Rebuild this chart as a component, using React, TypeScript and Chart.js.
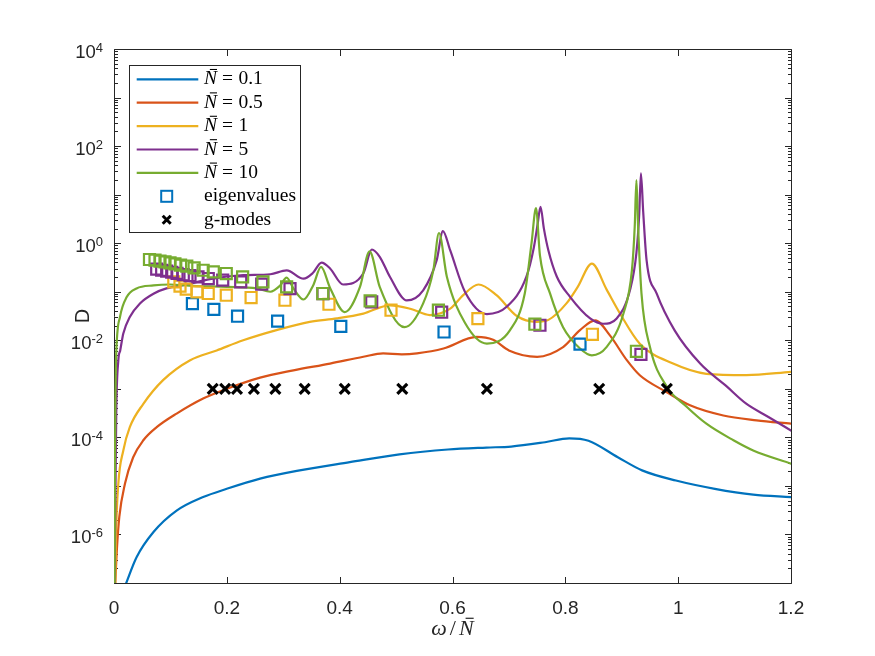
import React, { useEffect, useRef } from "react";
import { Chart, registerables } from "chart.js";

Chart.register(...registerables);

// ---------------- data ----------------
const seriesLabels = ["0.1", "0.5", "1", "5", "10"];
const seriesColors = ["#0072BD", "#D95319", "#EDB120", "#7E2F8E", "#77AC30"];

// N = 0.1
const n01X = [0.020, 0.040, 0.070, 0.111, 0.158, 0.200, 0.259, 0.324, 0.418, 0.506, 0.592, 0.660, 0.704, 0.764, 0.807, 0.841, 0.893, 0.936, 0.996, 1.065, 1.133, 1.200];
const n01D = [8.9e-8, 3.39e-7, 1.12e-6, 3.09e-6, 5.89e-6, 8.71e-6, 1.41e-5, 2.04e-5, 3.09e-5, 4.47e-5, 5.62e-5, 6.17e-5, 6.46e-5, 7.94e-5, 9.55e-5, 8.51e-5, 3.89e-5, 2.09e-5, 1.29e-5, 8.71e-6, 6.61e-6, 5.89e-6];

// N = 0.5
const n05X = [0.002, 0.005, 0.0094, 0.0195, 0.034, 0.052, 0.0757, 0.111, 0.158, 0.200, 0.259, 0.318, 0.383, 0.442, 0.477, 0.510, 0.537, 0.584, 0.643, 0.672, 0.700, 0.750, 0.796, 0.826, 0.853, 0.879, 0.909, 0.932, 0.980, 1.021, 1.080, 1.139, 1.200];
const n05D = [8.9e-8, 4.68e-7, 2.29e-6, 1.12e-5, 3.89e-5, 8.71e-5, 1.62e-4, 3.09e-4, 6.31e-4, 1.0e-3, 1.70e-3, 2.40e-3, 3.31e-3, 4.57e-3, 5.37e-3, 5.13e-3, 5.37e-3, 6.76e-3, 1.17e-2, 1.02e-2, 6.17e-3, 4.57e-3, 7.24e-3, 1.62e-2, 2.57e-2, 1.26e-2, 3.89e-3, 1.9e-3, 8.5e-4, 4.57e-4, 2.82e-4, 2.24e-4, 1.91e-4];

// N = 1
const n1X = [0.0022, 0.0035, 0.0077, 0.0165, 0.028, 0.052, 0.087, 0.135, 0.182, 0.229, 0.288, 0.347, 0.395, 0.442, 0.489, 0.525, 0.560, 0.596, 0.619, 0.646, 0.678, 0.714, 0.749, 0.770, 0.802, 0.822, 0.847, 0.873, 0.897, 0.932, 0.991, 1.050, 1.121, 1.200];
const n1D = [8.9e-8, 8.9e-7, 1.12e-5, 5.37e-5, 1.62e-4, 4.90e-4, 1.51e-3, 3.89e-3, 6.17e-3, 1.0e-2, 1.62e-2, 2.40e-2, 2.82e-2, 3.55e-2, 5.25e-2, 4.47e-2, 3.31e-2, 4.47e-2, 8.51e-2, 1.41e-1, 8.51e-2, 3.16e-2, 2.40e-2, 2.63e-2, 5.75e-2, 1.26e-1, 3.80e-1, 1.12e-1, 3.55e-2, 8.51e-3, 3.31e-3, 2.04e-3, 1.91e-3, 2.24e-3];

// N = 5
const n5X = [0.001, 0.0015, 0.004, 0.0077, 0.011, 0.0165, 0.028, 0.046, 0.070, 0.093, 0.129, 0.170, 0.229, 0.277, 0.306, 0.336, 0.352, 0.368, 0.383, 0.406, 0.442, 0.457, 0.471, 0.489, 0.519, 0.548, 0.572, 0.583, 0.596, 0.622, 0.661, 0.696, 0.731, 0.744, 0.751, 0.756, 0.762, 0.770, 0.785, 0.808, 0.844, 0.867, 0.891, 0.915, 0.926, 0.931, 0.934, 0.938, 0.944, 0.962, 0.994, 1.039, 1.086, 1.120, 1.160, 1.200];
const n5D = [8.9e-8, 3.16e-7, 3.16e-4, 3.89e-3, 6.17e-3, 1.38e-2, 3.02e-2, 5.75e-2, 9.12e-2, 1.17e-1, 1.41e-1, 1.82e-1, 2.19e-1, 2.29e-1, 2.75e-1, 1.86e-1, 2.40e-1, 3.98e-1, 3.02e-1, 1.41e-1, 2.40e-1, 7.41e-1, 5.25e-1, 2.04e-1, 6.61e-2, 1.07e-1, 4.47e-1, 1.78, 7.08e-1, 1.0e-1, 3.47e-2, 4.90e-2, 2.04e-1, 7.94e-1, 2.51, 5.62, 2.0, 7.08e-1, 2.04e-1, 7.94e-2, 2.82e-2, 2.19e-2, 2.82e-2, 1.12e-1, 6.31e-1, 3.98, 27.5, 4.47, 4.47e-1, 9.12e-2, 1.58e-2, 3.31e-3, 1.12e-3, 5.01e-4, 2.63e-4, 1.38e-4];

// N = 10
const n10X = [0.001, 0.0015, 0.0025, 0.0035, 0.0106, 0.0225, 0.040, 0.070, 0.099, 0.140, 0.200, 0.253, 0.277, 0.294, 0.306, 0.318, 0.336, 0.353, 0.367, 0.383, 0.409, 0.436, 0.453, 0.471, 0.515, 0.548, 0.566, 0.576, 0.590, 0.622, 0.661, 0.702, 0.728, 0.740, 0.748, 0.755, 0.773, 0.796, 0.826, 0.847, 0.873, 0.903, 0.918, 0.923, 0.926, 0.929, 0.935, 0.950, 0.980, 1.015, 1.050, 1.098, 1.133, 1.200];
const n10D = [8.9e-8, 1.0e-5, 6.31e-4, 3.89e-3, 3.02e-2, 7.76e-2, 1.17e-1, 1.35e-1, 1.41e-1, 1.32e-1, 1.26e-1, 1.17e-1, 1.0e-1, 1.32e-1, 1.95e-1, 1.17e-1, 6.92e-2, 1.35e-1, 3.24e-1, 1.20e-1, 3.80e-2, 1.26e-1, 6.76e-1, 1.26e-1, 1.86e-2, 5.75e-2, 2.75e-1, 1.62, 2.04e-1, 2.29e-2, 8.51e-3, 1.62e-2, 9.12e-2, 9.77e-1, 5.25, 5.62e-1, 9.12e-2, 1.86e-2, 6.76e-3, 4.90e-3, 7.24e-3, 3.55e-2, 2.75e-1, 2.19, 20.0, 2.19, 9.12e-2, 7.24e-3, 1.10e-3, 4.27e-4, 1.91e-4, 8.71e-5, 5.37e-5, 2.88e-5];

// eigenvalues (squares)
const eigBlueX = [0.139, 0.177, 0.219, 0.290, 0.402, 0.585, 0.826];
const eigBlueD = [5.71e-2, 4.32e-2, 3.13e-2, 2.47e-2, 1.93e-2, 1.48e-2, 8.32e-3];
const eigYellowX = [0.106, 0.117, 0.128, 0.147, 0.167, 0.199, 0.243, 0.303, 0.381, 0.491, 0.645, 0.848];
const eigYellowD = [0.159, 0.130, 0.113, 9.93e-2, 9.20e-2, 8.47e-2, 7.60e-2, 6.68e-2, 5.52e-2, 4.16e-2, 2.80e-2, 1.33e-2];
const eigPurpleX = [0.0757, 0.0845, 0.0934, 0.1023, 0.1117, 0.1228, 0.1347, 0.1489, 0.1671, 0.1927, 0.2246, 0.2618, 0.312, 0.3704, 0.4568, 0.5808, 0.755, 0.934];
const eigPurpleD = [0.291, 0.277, 0.265, 0.252, 0.240, 0.224, 0.214, 0.202, 0.187, 0.173, 0.159, 0.143, 0.116, 0.0918, 0.0617, 0.0378, 0.0204, 0.00514];
const eigGreenX = [0.0629, 0.0727, 0.0815, 0.0904, 0.0993, 0.108, 0.118, 0.129, 0.142, 0.158, 0.176, 0.199, 0.228, 0.264, 0.306, 0.370, 0.454, 0.575, 0.746, 0.926];
const eigGreenD = [0.461, 0.446, 0.426, 0.411, 0.393, 0.374, 0.352, 0.336, 0.310, 0.277, 0.256, 0.237, 0.202, 0.159, 0.126, 0.0918, 0.0646, 0.0416, 0.0214, 0.00593];

// g-modes (crosses)
const gModeX = [0.175, 0.197, 0.218, 0.248, 0.286, 0.338, 0.409, 0.511, 0.661, 0.860, 0.980];
const gModeD = [1e-3, 1e-3, 1e-3, 1e-3, 1e-3, 1e-3, 1e-3, 1e-3, 1e-3, 1e-3, 1e-3];

// axes
const xTicks = [0, 0.2, 0.4, 0.6, 0.8, 1, 1.2];
const yLabelExps = [-6, -4, -2, 0, 2, 4];
const yDecadeExps = [-7, -6, -5, -4, -3, -2, -1, 0, 1, 2, 3, 4];
const minorMultiples = [2, 3, 4, 5, 6, 7, 8, 9];
const xTitleParts = ["ω", "/", "N"];
const yTitle = "D";
const legendExtra = ["eigenvalues", "g-modes"];

// ---------------- styling ----------------
const SANS = '"Liberation Sans", Arial, Helvetica, sans-serif';
const SERIF = '"Liberation Serif", "Times New Roman", serif';
const AXIS = "#262626";

const pts = (xs: number[], ys: number[]) => xs.map((x, i) => ({ x, y: ys[i] }));

function drawNbar(ctx: CanvasRenderingContext2D, x: number, baseline: number, size: number) {
  ctx.font = `italic ${size}px ${SERIF}`;
  ctx.textAlign = "left";
  ctx.fillText("N", x, baseline);
  const w = ctx.measureText("N").width;
  const barY = baseline - size * 0.76;
  ctx.save();
  ctx.lineWidth = Math.max(1, size * 0.055);
  ctx.strokeStyle = ctx.fillStyle as string;
  ctx.beginPath();
  ctx.moveTo(x + w * 0.45, barY);
  ctx.lineTo(x + w * 1.0, barY);
  ctx.stroke();
  ctx.restore();
  return w;
}

const matlabPlugin = {
  id: "matlabAxes",
  beforeDatasetsDraw(chart: any) {
    const { ctx, chartArea: a } = chart;
    const xs = chart.scales.x;
    const ys = chart.scales.y;
    ctx.save();
    ctx.strokeStyle = AXIS;
    ctx.lineWidth = 1;
    const L = Math.round(a.left) + 0.5;
    const R = Math.round(a.right) + 0.5;
    const T = Math.round(a.top) + 0.5;
    const B = Math.round(a.bottom) + 0.5;
    ctx.beginPath();
    ctx.moveTo(L, T);
    ctx.lineTo(R, T);
    ctx.lineTo(R, B);
    ctx.lineTo(L, B);
    ctx.closePath();
    for (const v of xTicks) {
      const px = Math.round(xs.getPixelForValue(v)) + 0.5;
      ctx.moveTo(px, B);
      ctx.lineTo(px, B - 6.5);
      ctx.moveTo(px, T);
      ctx.lineTo(px, T + 6.5);
    }
    for (const e of yDecadeExps) {
      const py = Math.round(ys.getPixelForValue(Math.pow(10, e))) + 0.5;
      ctx.moveTo(L, py);
      ctx.lineTo(L + 6.5, py);
      ctx.moveTo(R, py);
      ctx.lineTo(R - 6.5, py);
      if (e < 4) {
        for (const m of minorMultiples) {
          const pm = Math.round(ys.getPixelForValue(m * Math.pow(10, e))) + 0.5;
          ctx.moveTo(L, pm);
          ctx.lineTo(L + 3.5, pm);
          ctx.moveTo(R, pm);
          ctx.lineTo(R - 3.5, pm);
        }
      }
    }
    ctx.stroke();
    ctx.restore();
  },
  afterDraw(chart: any) {
    const { ctx, chartArea: a } = chart;
    const xs = chart.scales.x;
    const ys = chart.scales.y;
    ctx.save();
    ctx.fillStyle = AXIS;
    ctx.textBaseline = "alphabetic";

    // x tick labels
    ctx.font = `19px ${SANS}`;
    ctx.textAlign = "center";
    for (const v of xTicks) {
      ctx.fillText(String(v), xs.getPixelForValue(v), a.bottom + 30.5);
    }

    // y tick labels 10^k
    const right = a.left - 11;
    for (const e of yLabelExps) {
      const py = ys.getPixelForValue(Math.pow(10, e));
      const expStr = String(e);
      ctx.font = `13px ${SANS}`;
      const ew = ctx.measureText(expStr).width;
      ctx.font = `18.5px ${SANS}`;
      const bw = ctx.measureText("10").width;
      ctx.textAlign = "left";
      ctx.fillText("10", right - ew - bw, py + 9);
      ctx.font = `13px ${SANS}`;
      ctx.fillText(expStr, right - ew, py + 2.5);
    }

    // y title
    ctx.save();
    ctx.translate(a.left - 25, (a.top + a.bottom) / 2);
    ctx.rotate(-Math.PI / 2);
    ctx.font = `20px ${SANS}`;
    ctx.textAlign = "center";
    ctx.fillText(yTitle, 0, 0);
    ctx.restore();

    // x title  ω / N̄
    {
      const size = 22;
      ctx.font = `italic ${size}px ${SERIF}`;
      const w0 = ctx.measureText(xTitleParts[0]).width;
      const wN = ctx.measureText(xTitleParts[2]).width;
      ctx.font = `${size}px ${SERIF}`;
      const w1 = ctx.measureText(xTitleParts[1]).width;
      const gap = 3;
      const total = w0 + gap + w1 + gap + wN;
      let x = (a.left + a.right) / 2 - total / 2;
      const base = 635;
      ctx.textAlign = "left";
      ctx.font = `italic ${size}px ${SERIF}`;
      ctx.fillText(xTitleParts[0], x, base);
      x += w0 + gap;
      ctx.font = `${size}px ${SERIF}`;
      ctx.fillText(xTitleParts[1], x, base);
      x += w1 + gap;
      drawNbar(ctx, x, base, size);
    }

    // legend
    const bx = 129.5, by = 65.5, bw = 171, bh = 167;
    ctx.fillStyle = "#ffffff";
    ctx.fillRect(bx, by, bw, bh);
    ctx.strokeStyle = AXIS;
    ctx.lineWidth = 1;
    ctx.strokeRect(bx, by, bw, bh);
    const rowY = (i: number) => 79.3 + i * 23.4;
    const size = 19.5;
    ctx.fillStyle = "#000000";
    seriesLabels.forEach((lab, i) => {
      const y = rowY(i);
      ctx.strokeStyle = seriesColors[i];
      ctx.lineWidth = 2.2;
      ctx.beginPath();
      ctx.moveTo(136.7, y);
      ctx.lineTo(198.3, y);
      ctx.stroke();
      ctx.fillStyle = "#000000";
      ctx.strokeStyle = "#000000";
      const base = y + 5;
      drawNbar(ctx, 204, base, size);
      ctx.font = `${size}px ${SERIF}`;
      const eqX = 222;
      ctx.fillText("=", eqX, base);
      const we = ctx.measureText("=").width;
      ctx.fillText(lab, eqX + we + 5.5, base);
    });
    // eigenvalues square
    {
      const y = rowY(5);
      ctx.strokeStyle = seriesColors[0];
      ctx.lineWidth = 2;
      ctx.strokeRect(166.7 - 5.5, y - 5.5, 11, 11);
      ctx.fillStyle = "#000000";
      ctx.font = `${size}px ${SERIF}`;
      ctx.fillText(legendExtra[0], 204, y + 5);
    }
    // g-modes cross
    {
      const y = rowY(6);
      ctx.strokeStyle = "#000000";
      ctx.lineWidth = 3;
      ctx.beginPath();
      ctx.moveTo(166.7 - 4, y - 4);
      ctx.lineTo(166.7 + 4, y + 4);
      ctx.moveTo(166.7 + 4, y - 4);
      ctx.lineTo(166.7 - 4, y + 4);
      ctx.stroke();
      ctx.fillStyle = "#000000";
      ctx.font = `${size}px ${SERIF}`;
      ctx.fillText(legendExtra[1], 204, y + 5);
    }
    ctx.restore();
  },
};

export default function App() {
  const ref = useRef<HTMLCanvasElement | null>(null);

  useEffect(() => {
    if (!ref.current) return;
    const lineSets = [
      [n01X, n01D],
      [n05X, n05D],
      [n1X, n1D],
      [n5X, n5D],
      [n10X, n10D],
    ];
    const datasets: any[] = [];
    lineSets.forEach(([xs, ys], i) => {
      datasets.push({
        label: "N = " + seriesLabels[i],
        data: pts(xs, ys),
        showLine: true,
        borderColor: seriesColors[i],
        backgroundColor: seriesColors[i],
        borderWidth: 2.2,
        pointRadius: 0,
        pointHoverRadius: 0,
        cubicInterpolationMode: "monotone",
        borderJoinStyle: "round",
        borderCapStyle: "round",
        fill: false,
      });
    });
    const eigSets = [
      [eigBlueX, eigBlueD, seriesColors[0]],
      [eigYellowX, eigYellowD, seriesColors[2]],
      [eigPurpleX, eigPurpleD, seriesColors[3]],
      [eigGreenX, eigGreenD, seriesColors[4]],
    ] as [number[], number[], string][];
    eigSets.forEach(([xs, ys, c]) => {
      datasets.push({
        label: legendExtra[0],
        data: pts(xs, ys),
        showLine: false,
        pointStyle: "rect",
        pointRadius: 7.8,
        pointHoverRadius: 7.8,
        pointBorderWidth: 2.2,
        borderWidth: 2.2,
        pointBorderColor: c,
        borderColor: c,
        pointBackgroundColor: "rgba(0,0,0,0)",
        backgroundColor: "rgba(0,0,0,0)",
      });
    });
    datasets.push({
      label: legendExtra[1],
      data: pts(gModeX, gModeD),
      showLine: false,
      pointStyle: "crossRot",
      pointRadius: 7,
      pointHoverRadius: 7,
      pointBorderWidth: 3.2,
      borderWidth: 3.2,
      pointBorderColor: "#000000",
      borderColor: "#000000",
      backgroundColor: "#000000",
    });
    const n = datasets.length;
    datasets.forEach((d, i) => (d.order = n - i));

    const chart = new Chart(ref.current, {
      type: "scatter",
      data: { datasets },
      plugins: [matlabPlugin],
      options: {
        animation: false,
        responsive: false,
        devicePixelRatio: 1,
        events: [],
        layout: { padding: { top: 49, right: 84, left: 0, bottom: 0 } },
        plugins: { legend: { display: false }, tooltip: { enabled: false } },
        scales: {
          x: {
            type: "linear",
            min: 0,
            max: 1.2,
            afterFit: (s: any) => {
              s.height = 73;
            },
            grid: { display: false, drawTicks: false },
            border: { display: false },
            ticks: { display: false },
          },
          y: {
            type: "logarithmic",
            min: 1e-7,
            max: 1e4,
            afterFit: (s: any) => {
              s.width = 114;
            },
            grid: { display: false, drawTicks: false },
            border: { display: false },
            ticks: { display: false },
          },
        },
      } as any,
    });
    return () => chart.destroy();
  }, []);

  return (
    <div style={{ position: "fixed", left: 0, top: 0, width: 875, height: 656, background: "#fff" }}>
      <canvas ref={ref} width={875} height={656} style={{ display: "block" }} />
    </div>
  );
}
